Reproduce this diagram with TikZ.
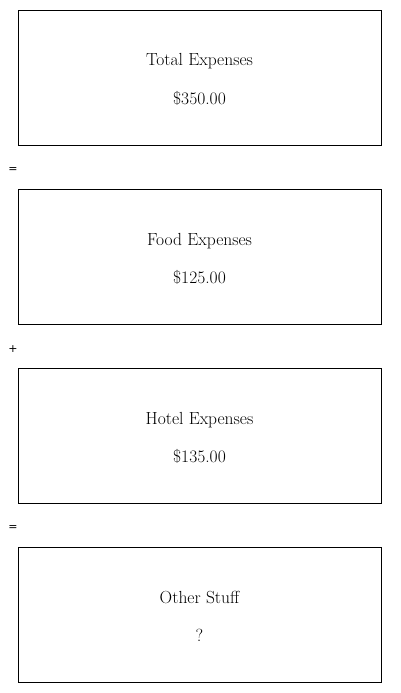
\documentclass[tikz,border=0pt]{standalone}
\usepackage{fontspec}
\newfontfamily\symfont{DejaVu Sans}
\begin{document}
\begin{tikzpicture}[x=1pt,y=-1pt,
  box/.style={draw=black, line width=1pt, minimum width=363pt, minimum height=135pt, inner sep=0pt, anchor=north west},
  lbl/.style={font=\fontsize{17.5}{21}\selectfont, anchor=base},
  op/.style={font=\symfont\fontsize{11}{13}\selectfont}]
\useasboundingbox (0,0) rectangle (400,693);
\fill[white] (0,0) rectangle (400,693);
\foreach \i/\t/\v in {0/Total Expenses/\$350.00, 1/Food Expenses/\$125.00, 2/Hotel Expenses/\$135.00, 3/Other Stuff/?}{
  \node[box] (b\i) at (18,{10+179*\i}) {};
  \node[lbl] (t\i) at (199.5,{66+179*\i}) {\t};
  \node[lbl] (v\i) at (199.5,{104.5+179*\i}) {\v};
}
\node[op] (o1) at (13,170) {=};
\node[op] (o2) at (13,349) {+};
\node[op] (o3) at (13,528) {=};
\end{tikzpicture}
\end{document}
